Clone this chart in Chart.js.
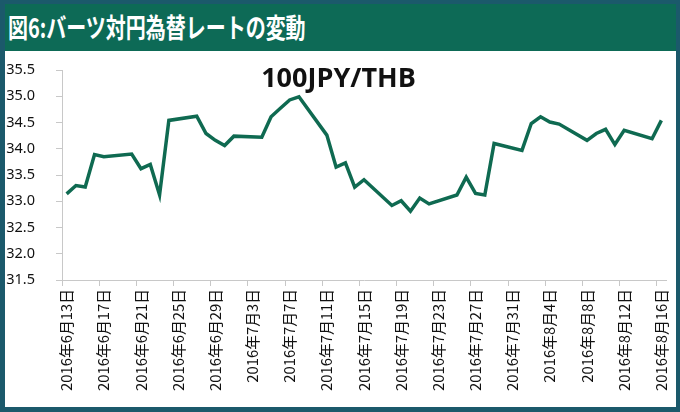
<!DOCTYPE html>
<html>
<head>
<meta charset="utf-8">
<script src="https://cdn.jsdelivr.net/npm/chart.js@4/dist/chart.umd.min.js"></script>
<style>
  body { margin: 0; }
  #frame { position: relative; width: 680px; height: 412px; background: #1b596b; overflow: hidden; }
  #head {
    position: absolute; left: 5px; top: 4px; width: 671px; height: 47px;
    background: #0d6a56; color: #fff;
  }
  #head span {
    position: absolute; left: 3px; top: 3px; white-space: nowrap;
    font: bold 27px "Noto Sans CJK JP", sans-serif;
    transform: scaleX(0.74); transform-origin: 0 0;
  }
  #panel { position: absolute; left: 5px; top: 51px; width: 671px; height: 356px; background: #fff; }
</style>
</head>
<body>
<div id="frame">
  <div id="head"><span>図6:バーツ対円為替レートの変動</span></div>
  <div id="panel"><canvas id="chart" width="671" height="356"></canvas></div>
</div>
<script>
// 横軸の全日付 (6/13 - 8/16)
const axisDays = [
    '6/13', '6/14', '6/15', '6/16', '6/17', '6/18', '6/19', '6/20', '6/21', '6/22',
    '6/23', '6/24', '6/25', '6/26', '6/27', '6/28', '6/29', '6/30',
    '7/1', '7/2', '7/3', '7/4', '7/5', '7/6', '7/7', '7/8', '7/9', '7/10',
    '7/11', '7/12', '7/13', '7/14', '7/15', '7/16', '7/17', '7/18', '7/19', '7/20',
    '7/21', '7/22', '7/23', '7/24', '7/25', '7/26', '7/27', '7/28', '7/29', '7/30', '7/31',
    '8/1', '8/2', '8/3', '8/4', '8/5', '8/6', '8/7', '8/8', '8/9', '8/10',
    '8/11', '8/12', '8/13', '8/14', '8/15', '8/16'
];

// 取引日とレート (100JPY/THB)
const tradeDates = [
    '6/13', '6/14', '6/15', '6/16', '6/17', '6/20', '6/21', '6/22', '6/23', '6/24',
    '6/27', '6/28', '6/29', '6/30',
    '7/1', '7/4', '7/5', '7/6', '7/7', '7/8', '7/11', '7/12', '7/13', '7/14', '7/15',
    '7/18', '7/19', '7/20', '7/21', '7/22', '7/25', '7/26', '7/27', '7/28', '7/29',
    '8/1', '8/2', '8/3', '8/4', '8/5', '8/8', '8/9', '8/10', '8/11', '8/12', '8/15', '8/16'
];
const rates = [
    33.14, 33.30, 33.27, 33.89, 33.85, 33.90, 33.62, 33.70, 33.12, 34.54,
    34.62, 34.29, 34.16, 34.06,
    34.24, 34.22, 34.61, 34.77, 34.93, 34.99, 34.26, 33.65, 33.73, 33.27, 33.41,
    32.92, 33.01, 32.81, 33.06, 32.95, 33.12, 33.46, 33.15, 33.12, 34.10,
    33.97, 34.48, 34.61, 34.51, 34.47, 34.16, 34.29, 34.37, 34.08, 34.35, 34.19, 34.54
];

const yTicks = { min: 31.5, max: 35.5, step: 0.5 };
const LABEL_EVERY = 4;
const LINE_COLOR = '#0f6a51';
const AXIS_COLOR = '#c8c8c8';

function dayLabel(s) {
    const p = s.split('/');
    return '2016年' + p[0] + '月' + p[1] + '日';
}

// グラフ内の見出し
const headline = {
    id: 'headline',
    afterDatasetsDraw(chart) {
        const ctx = chart.ctx;
        ctx.save();
        ctx.fillStyle = '#111';
        ctx.font = 'bold 27px "Open Sans", sans-serif';
        ctx.textAlign = 'center';
        ctx.textBaseline = 'middle';
        ctx.fillText('100JPY/THB', chart.width / 2 - 2, 28);
        ctx.restore();
    }
};

new Chart(document.getElementById('chart'), {
    type: 'line',
    data: {
        labels: axisDays,
        datasets: [{
            data: tradeDates.map((d, i) => ({ x: d, y: rates[i] })),
            borderColor: LINE_COLOR,
            borderWidth: 3.5,
            pointRadius: 0,
            tension: 0,
            fill: false,
        }]
    },
    options: {
        responsive: false,
        animation: false,
        layout: { padding: { left: 0, right: 10, top: 19, bottom: 0 } },
        plugins: { legend: { display: false }, tooltip: { enabled: false } },
        scales: {
            x: {
                type: 'category',
                offset: true,
                afterFit: s => { s.height = 127; s.paddingLeft = 0; s.paddingRight = 0; },
                border: { display: true, color: AXIS_COLOR, width: 1 },
                grid: {
                    offset: true,
                    drawOnChartArea: false,
                    drawTicks: true,
                    tickLength: 6,
                    color: c => (c.index % LABEL_EVERY === 0 ? AXIS_COLOR : 'rgba(0,0,0,0)'),
                },
                ticks: {
                    autoSkip: false,
                    maxRotation: 90,
                    minRotation: 90,
                    padding: 3,
                    color: '#111',
                    font: { family: '"Noto Sans CJK JP", sans-serif', size: 14.8 },
                    callback: (v, i) => (i % LABEL_EVERY === 0 ? dayLabel(axisDays[i]) : ''),
                }
            },
            y: {
                min: yTicks.min,
                max: yTicks.max,
                afterFit: s => { s.width = 57; s.paddingTop = 0; s.paddingBottom = 0; },
                border: { display: true, color: AXIS_COLOR, width: 1 },
                grid: { drawOnChartArea: false, drawTicks: true, tickLength: 6, color: AXIS_COLOR },
                ticks: {
                    stepSize: yTicks.step,
                    padding: 21,
                    color: '#111',
                    font: { family: '"Noto Sans", sans-serif', size: 14.5 },
                    callback: v => v.toFixed(1),
                }
            }
        }
    },
    plugins: [headline]
});
</script>
</body>
</html>
